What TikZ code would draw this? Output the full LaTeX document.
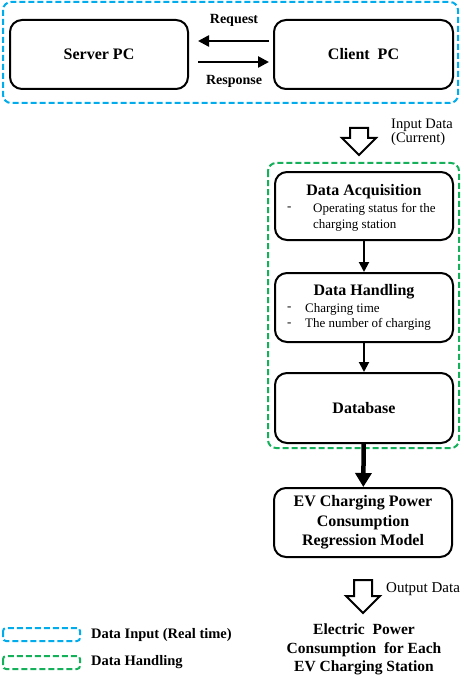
\documentclass[tikz,border=0pt]{standalone}
\usepackage{fontspec}
\setmainfont{Liberation Serif}
\usetikzlibrary{arrows.meta}
\definecolor{inputblue}{RGB}{0,172,236}
\definecolor{handlegreen}{RGB}{20,176,90}
\newcommand{\fatarrow}[3]% x, top, tip
{({#1-9},#2) -- ({#1+9},#2) -- ({#1+9},{#3-17}) -- ({#1+17},{#3-17}) -- (#1,#3) -- ({#1-17},{#3-17}) -- ({#1-9},{#3-17}) -- cycle
}
\tikzset{
	box/.style={draw, line width=2pt, rounded corners=12pt, minimum width=178pt, minimum height=69pt, inner sep=0pt},
	title/.style={font=\bfseries\fontsize{16}{19}\selectfont, inner sep=0pt},
	item/.style={font=\fontsize{13}{15}\selectfont, inner sep=0pt, anchor=west},
	note/.style={font=\fontsize{14.5}{14}\selectfont, inner sep=0pt, align=left},
	link/.style={line width=2.5pt, -{Triangle[length=11pt,width=11pt]}},
	inputzone/.style={draw=inputblue, line width=2pt, dash pattern=on 6pt off 3pt, rounded corners=8pt},
	handlezone/.style={draw=handlegreen, line width=2pt, dash pattern=on 6pt off 3pt, rounded corners=8pt},
}

\begin{document}
\begin{tikzpicture}[x=1pt,y=-1pt]
	\useasboundingbox (0,0) rectangle (474,687);
	% data input part
	\draw[inputzone] (3,2) rectangle (458,103);
	\node[box] (server) at (99,54.5) {};
	\node[title] at (server) {Server PC};
	\node[box, minimum width=179pt] (client) at (363.5,54.5) {};
	\node[title] at (client) {Client\ \ PC};
	\draw[link, shorten <=4pt, shorten >=9pt] ([yshift=13.5pt]client.west) -- ([yshift=13.5pt]server.east);
	\draw[link, shorten <=9pt, shorten >=4pt] ([yshift=-7.5pt]server.east) -- ([yshift=-7.5pt]client.west);
	\node[title, font=\bfseries\fontsize{14}{16}\selectfont] (req) at (234,20) {Request};
	\node[title, font=\bfseries\fontsize{14}{16}\selectfont] (resp) at (234,81) {Response};
	% input data
	\draw[line width=2pt, fill=white] \fatarrow{359}{128}{155};
	\node[note, anchor=west] (inlabel) at (391,132.5) {Input Data\\(Current)};
	% data handling part
	\draw[handlezone] (268,163) rectangle (459,448);
	\node[box, minimum height=68pt] (acq) at (364,206) {};
	\node[title] (acqtitle) at (364,192) {Data Acquisition};
	\node[item] at (287,209) {-};
	\node[item] at (313,209) {Operating status for the};
	\node[item] at (313,225) {charging station};
	\node[box] (handle) at (364,307.5) {};
	\node[title] (handletitle) at (364,292) {Data Handling};
	\node[item] at (287,309) {-};
	\node[item] at (305,309) {Charging time};
	\node[item] at (287,324.5) {-};
	\node[item] at (305,324.5) {The number of charging};
	\node[box, minimum height=70pt] (db) at (364,408) {};
	\node[title] at (db) {Database};
	\draw[line width=2pt, -{Triangle[length=10pt,width=10pt]}] (acq) -- (handle);
	\draw[line width=2pt, -{Triangle[length=10pt,width=10pt]}] (handle) -- (db);
	% regression model
	\node[box, align=center, font=\bfseries\fontsize{16}{19.5}\selectfont] (model) at (363,522.5) {EV Charging Power\\Consumption\\Regression Model};
	\draw[line width=4.5pt, -{Triangle[length=14pt,width=16pt]}] (db) -- (model);
	% output
	\draw[line width=2pt, fill=white] \fatarrow{363}{580}{613};
	\node[note, anchor=west, font=\fontsize{15}{16}\selectfont] (outlabel) at (386,589) {Output Data};
	\node[title, align=center, font=\bfseries\fontsize{15.5}{18.5}\selectfont] (result) at (364,649.5) {Electric\ \ Power\\Consumption\ \ for Each\\EV Charging Station};
	% legend
	\draw[inputzone, rounded corners=3pt] (3,628) rectangle (80,641);
	\node[title, anchor=west, font=\bfseries\fontsize{14.5}{16}\selectfont] (leginput) at (91,635) {Data Input (Real time)};
	\draw[handlezone, rounded corners=3pt] (3,656) rectangle (80,669);
	\node[title, anchor=west, font=\bfseries\fontsize{14.5}{16}\selectfont] (leghandle) at (91,662) {Data Handling};
\end{tikzpicture}
\end{document}
